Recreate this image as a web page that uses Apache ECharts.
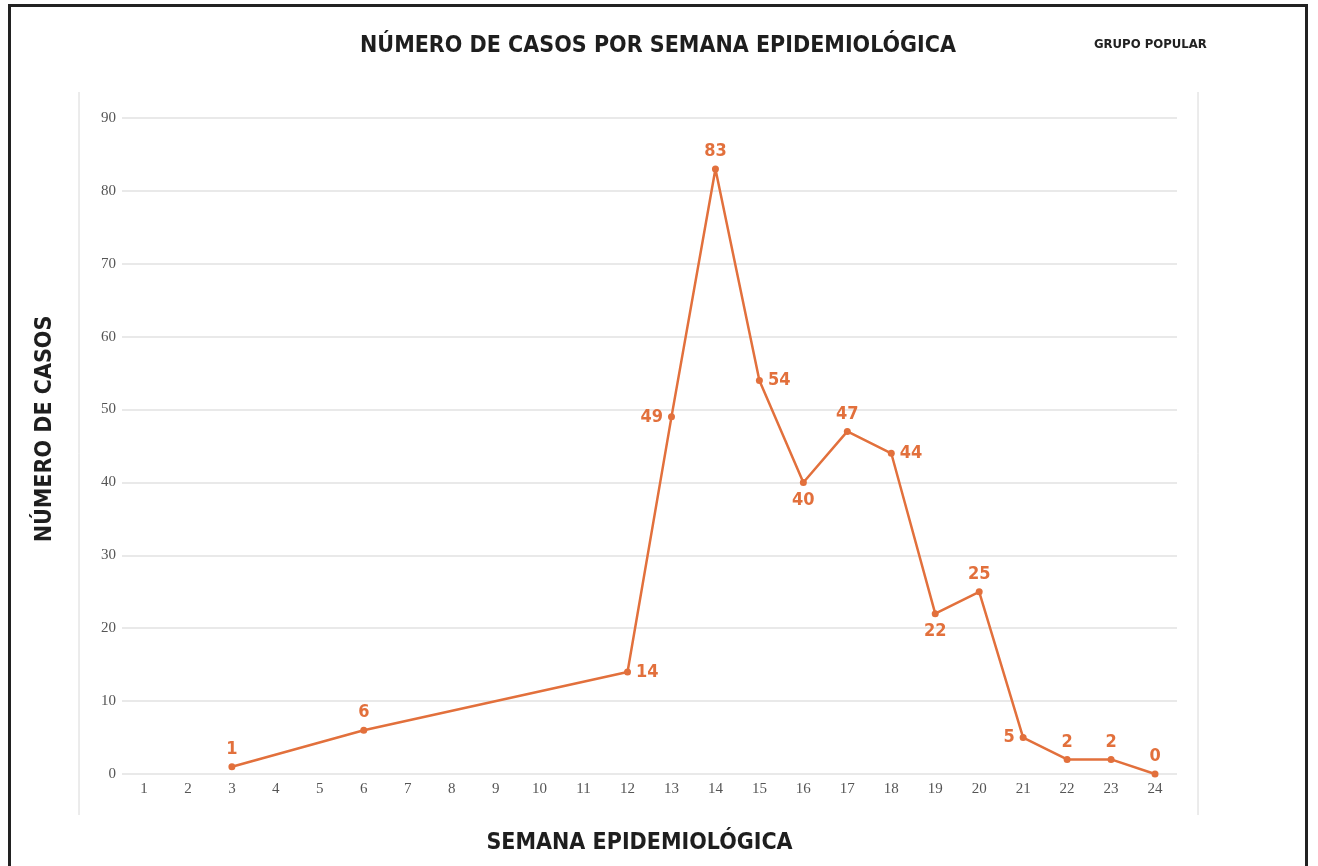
<!DOCTYPE html>
<html lang="es" style="height: 100%">
<head>
  <meta charset="utf-8" />
</head>
<body style="height: 100%; margin: 0; background: #fff; overflow: hidden">
  <div style="position: absolute; left: 8px; top: 4px; width: 1300px; height: 900px; border: 3px solid #222; box-sizing: border-box"></div>
  <div id="container" style="position: absolute; left: 0; top: 0; width: 1318px; height: 866px"></div>

  <script src="https://cdn.jsdelivr.net/npm/echarts@6/dist/echarts.min.js"></script>
  <script>
    // semanas epidemiologicas 1..24, null = sin dato
    var semanas = ["1","2","3","4","5","6","7","8","9","10","11","12","13","14","15","16","17","18","19","20","21","22","23","24"];
    var casos = [null, null, 1, null, null, 6, null, null, null, null, null, 14, 49, 83, 54, 40, 47, 44, 22, 25, 5, 2, 2, 0];
    var posEtiqueta = [null, null, "top", null, null, "top", null, null, null, null, null, "right", "left", "top", "right", "bottom", "top", "right", "bottom", "top", "left", "top", "top", "top"];

    var naranja = "#e2703c";
    var fuenteTitulo = "'DejaVu Sans Condensed', 'Liberation Sans Narrow', sans-serif";

    var datos = casos.map(function (v, i) {
      if (v === null) return null;
      return { value: v, label: { position: posEtiqueta[i] } };
    });

    var myChart = echarts.init(document.getElementById("container"), null, { renderer: "canvas" });

    var option = {
      animation: false,
      title: {
        text: "NÚMERO DE CASOS POR SEMANA EPIDEMIOLÓGICA",
        left: 653,
        top: 30,
        textAlign: "center",
        textStyle: { fontFamily: fuenteTitulo, fontSize: 23, fontWeight: "bold", color: "#1e1e1e" }
      },
      graphic: [
        {
          type: "text", left: 1094, top: 38,
          style: { text: "GRUPO POPULAR", font: "bold 13px " + fuenteTitulo, fill: "#222" }
        },
        { type: "line", shape: { x1: 79, y1: 92, x2: 79, y2: 815 }, style: { stroke: "#d8d8d8", lineWidth: 1 } },
        { type: "line", shape: { x1: 1198, y1: 92, x2: 1198, y2: 815 }, style: { stroke: "#d8d8d8", lineWidth: 1 } }
      ],
      grid: { left: 122, right: 141, top: 118, bottom: 92 },
      xAxis: {
        type: "category",
        data: semanas,
        boundaryGap: true,
        name: "SEMANA EPIDEMIOLÓGICA",
        nameLocation: "middle",
        nameGap: 58,
        nameTextStyle: { fontFamily: fuenteTitulo, fontSize: 23, fontWeight: "bold", color: "#1e1e1e", padding: [0, 20, 0, 0] },
        axisLine: { show: false },
        axisTick: { show: false },
        axisLabel: { fontFamily: "'Liberation Serif', serif", fontSize: 15, color: "#555", margin: 8 }
      },
      yAxis: {
        type: "value",
        min: 0,
        max: 90,
        interval: 10,
        name: "NÚMERO DE CASOS",
        nameLocation: "middle",
        nameGap: 65,
        nameTextStyle: { fontFamily: fuenteTitulo, fontSize: 23, fontWeight: "bold", color: "#1e1e1e", padding: [0, 0, 0, 34] },
        axisLine: { show: false },
        axisTick: { show: false },
        splitLine: { lineStyle: { color: "#e2e2e2", width: 1.5 } },
        axisLabel: { fontFamily: "'Liberation Serif', serif", fontSize: 15, color: "#555", margin: 6 }
      },
      series: [
        {
          type: "line",
          data: datos,
          connectNulls: true,
          symbol: "circle",
          symbolSize: 7,
          lineStyle: { color: naranja, width: 2.5 },
          itemStyle: { color: naranja },
          label: {
            show: true,
            distance: 5,
            fontFamily: fuenteTitulo,
            fontSize: 18,
            fontWeight: "bold",
            color: naranja
          }
        }
      ]
    };

    myChart.setOption(option);
    window.addEventListener("resize", myChart.resize);
  </script>
</body>
</html>
